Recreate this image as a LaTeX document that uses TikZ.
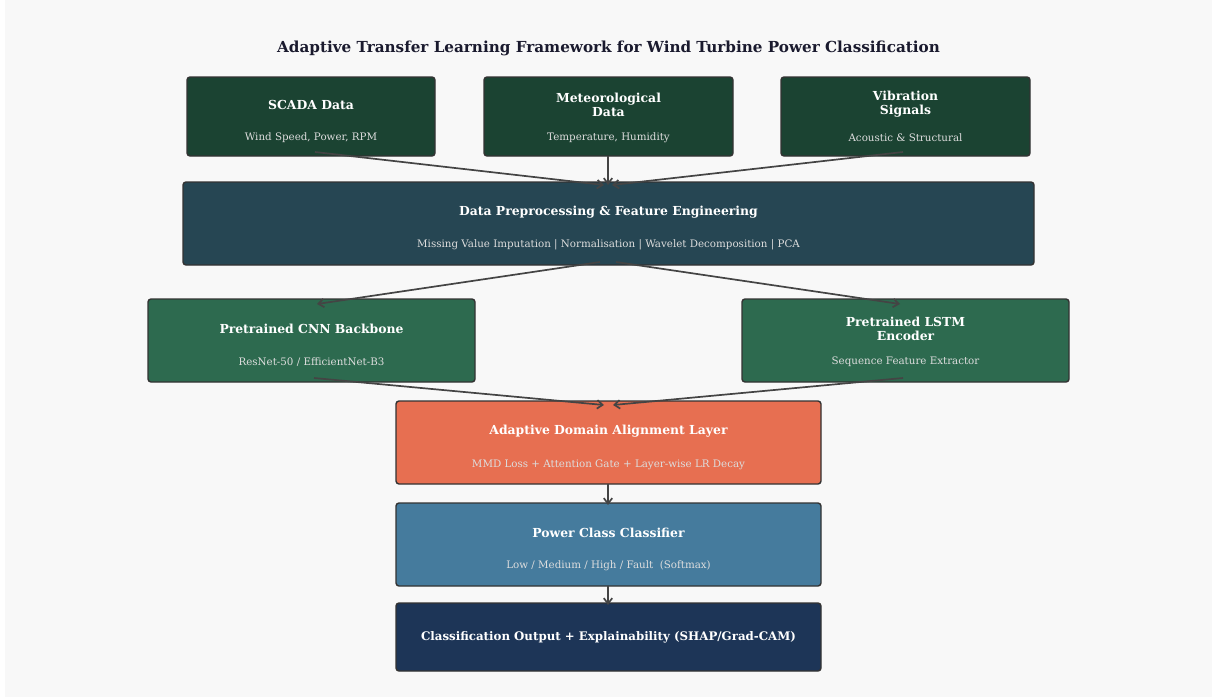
\documentclass[tikz,border=0pt]{standalone}
\usepackage{fontspec}
\setmainfont{DejaVu Serif}
\usetikzlibrary{arrows.meta}
\definecolor{bgc}{HTML}{F8F8F8}
\definecolor{srcc}{HTML}{1B4332}
\definecolor{prec}{HTML}{264653}
\definecolor{modc}{HTML}{2D6A4F}
\definecolor{adac}{HTML}{E76F51}
\definecolor{powc}{HTML}{457B9D}
\definecolor{outc}{HTML}{1D3557}
\definecolor{edgec}{HTML}{333333}
\definecolor{arrc}{HTML}{444444}
\definecolor{subc}{HTML}{DDDDDD}
\definecolor{titc}{HTML}{1A1A2E}
\tikzset{
  box/.style={draw=edgec, line width=1.4pt, rounded corners=3pt, inner sep=0pt},
  ttl/.style={text=white, font=\fontsize{12.4}{13.5}\selectfont\bfseries, align=center, inner sep=0pt},
  sub/.style={text=subc, font=\fontsize{10.3}{12}\selectfont, inner sep=0pt},
  conn/.style={draw=arrc, line width=1.7pt, -{Straight Barb[length=5.5pt,width=8.5pt]}}
}
\begin{document}
\begin{tikzpicture}[x=1pt,y=-1pt]
\useasboundingbox (0,0) rectangle (1212,697);
\fill[white] (0,0) rectangle (1212,697);
\fill[bgc] (5,0) rectangle (1212,697);
\node[font=\fontsize{15.2}{17}\selectfont\bfseries, text=titc] (title) at (608.5,48) {Adaptive Transfer Learning Framework for Wind Turbine Power Classification};

% boxes
\node[box, fill=srcc, minimum width=248pt, minimum height=79pt] (scada) at (311,116.5) {};
\node[box, fill=srcc, minimum width=249pt, minimum height=79pt] (met) at (608.5,116.5) {};
\node[box, fill=srcc, minimum width=249pt, minimum height=79pt] (vib) at (905.5,116.5) {};
\node[box, fill=prec, minimum width=851pt, minimum height=83pt] (pre) at (608.5,223.5) {};
\node[box, fill=modc, minimum width=327pt, minimum height=83pt] (cnn) at (311.5,340.5) {};
\node[box, fill=modc, minimum width=327pt, minimum height=83pt] (lstm) at (905.5,340.5) {};
\node[box, fill=adac, minimum width=425pt, minimum height=83pt] (ada) at (608.5,442.5) {};
\node[box, fill=powc, minimum width=425pt, minimum height=83pt] (pow) at (608.5,544.5) {};
\node[box, fill=outc, minimum width=425pt, minimum height=68pt] (out) at (608.5,637) {};

% texts
\node[ttl] (scadaT) at (311,105) {SCADA Data};
\node[sub] (scadaS) at (311,138) {Wind Speed, Power, RPM};
\node[ttl] (metT) at (608.5,104.5) {Meteorological\\[0.5pt]Data};
\node[sub] (metS) at (608.5,138) {Temperature, Humidity};
\node[ttl] (vibT) at (905.5,104.5) {Vibration\\[0.5pt]Signals};
\node[sub] (vibS) at (905.5,138) {Acoustic \& Structural};
\node[ttl] (preT) at (608.5,212) {Data Preprocessing \& Feature Engineering};
\node[sub] (preS) at (608.5,245) {Missing Value Imputation | Normalisation | Wavelet Decomposition | PCA};
\node[ttl] (cnnT) at (311.5,329) {Pretrained CNN Backbone};
\node[sub] (cnnS) at (311.5,362) {ResNet-50 / EfficientNet-B3};
\node[ttl] (lstmT) at (905.5,328.5) {Pretrained LSTM\\[0.5pt]Encoder};
\node[sub] (lstmS) at (905.5,362) {Sequence Feature Extractor};
\node[ttl] (adaT) at (608.5,431) {Adaptive Domain Alignment Layer};
\node[sub] (adaS) at (608.5,465) {MMD Loss + Attention Gate + Layer-wise LR Decay};
\node[ttl] (powT) at (608.5,533) {Power Class Classifier};
\node[sub] (powS) at (608.5,566) {Low / Medium / High / Fault~~(Softmax)};
\node[ttl, font=\fontsize{11.8}{13}\selectfont\bfseries] (outT) at (608.5,637) {Classification Output + Explainability (SHAP/Grad-CAM)};

% connector anchor points
\coordinate (scadaO) at (315,152);
\coordinate (metO) at (608,156);
\coordinate (vibO) at (903,152);
\coordinate (preI1) at (604,185);
\coordinate (preI2) at (608,185);
\coordinate (preI3) at (612,185);
\coordinate (preO1) at (600,262);
\coordinate (preO2) at (616,262);
\coordinate (cnnI) at (317,304);
\coordinate (lstmI) at (900,304);
\coordinate (cnnO) at (314,378);
\coordinate (lstmO) at (903,378);
\coordinate (adaI1) at (604,405);
\coordinate (adaI2) at (613,405);
\coordinate (adaO) at (608,484);
\coordinate (powI) at (608,505);
\coordinate (powO) at (608,586);
\coordinate (outI) at (608,605);

\draw[conn] (scadaO) -- (preI1);
\draw[conn] (metO) -- (preI2);
\draw[conn] (vibO) -- (preI3);
\draw[conn] (preO1) -- (cnnI);
\draw[conn] (preO2) -- (lstmI);
\draw[conn] (cnnO) -- (adaI1);
\draw[conn] (lstmO) -- (adaI2);
\draw[conn] (adaO) -- (powI);
\draw[conn] (powO) -- (outI);
\end{tikzpicture}
\end{document}
